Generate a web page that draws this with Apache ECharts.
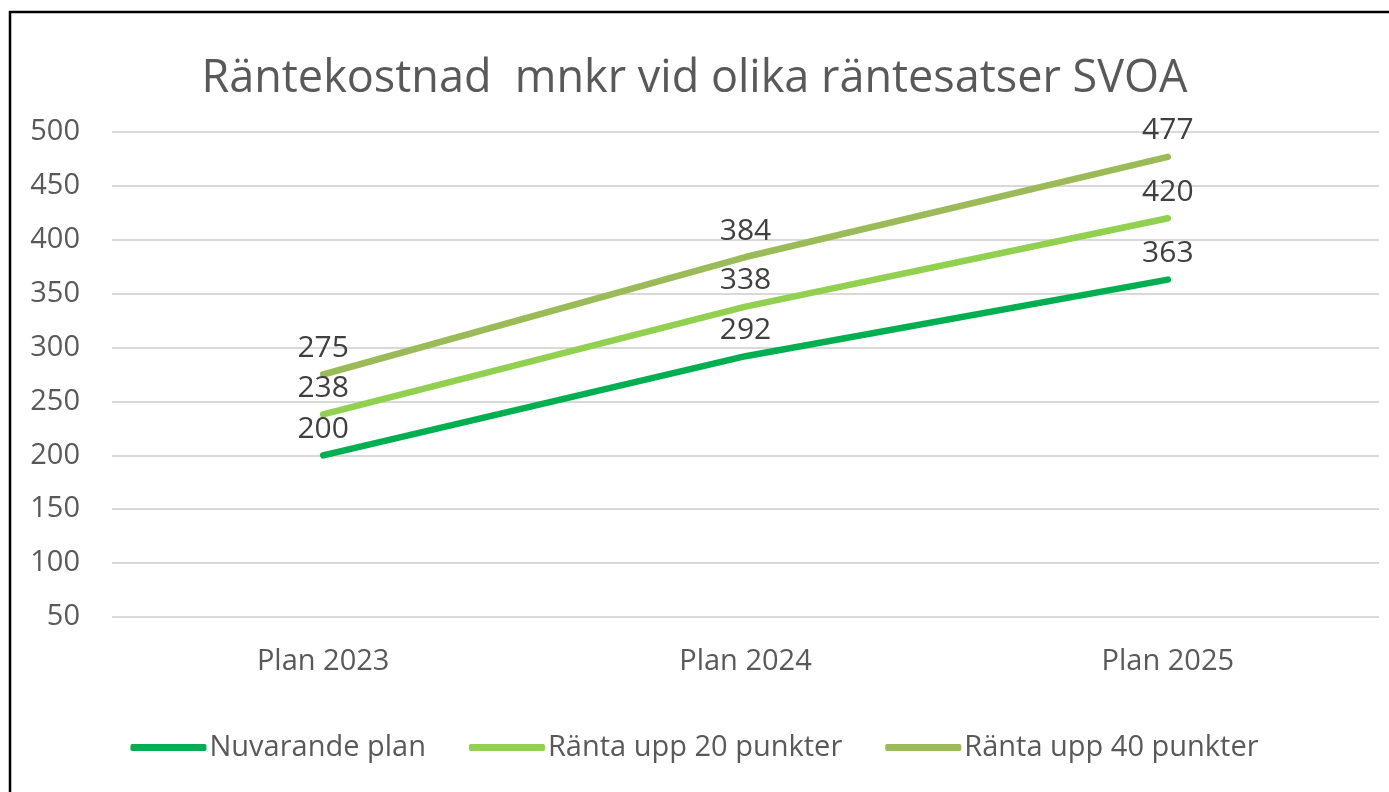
<!DOCTYPE html>
<html>
<head>
<meta charset="utf-8">
<script src="https://cdn.jsdelivr.net/npm/echarts@6/dist/echarts.min.js"></script>
<style>
  html, body { margin: 0; padding: 0; background: #fff; }
  #main { width: 1389px; height: 792px; }
</style>
</head>
<body>
<div id="main"></div>
<script>
const categories = ['Plan 2023', 'Plan 2024', 'Plan 2025'];
const nuvarande = [200, 292, 363];
const upp20 = [238, 338, 420];
const upp40 = [275, 384, 477];
const seriesNames = ['Nuvarande plan', 'Ränta upp 20 punkter', 'Ränta upp 40 punkter'];
const colors = ['#00B050', '#92D050', '#9BBB59'];

const chart = echarts.init(document.getElementById('main'));
const font = '"Open Sans", sans-serif';

const makeLine = (name, data, color) => ({
  name: name,
  type: 'line',
  data: data,
  symbol: 'circle',
  symbolSize: 0,
  lineStyle: { color: color, width: 6.5, cap: 'round' },
  itemStyle: { color: color },
  label: {
    show: true,
    position: 'top',
    distance: 11,
    color: '#404040',
    fontSize: 30,
    fontFamily: font
  }
});

const option = {
  backgroundColor: '#fff',
  animation: false,
  title: {
    text: 'Räntekostnad  mnkr vid olika räntesatser SVOA',
    left: 'center',
    top: 52,
    textStyle: { color: '#595959', fontSize: 45, fontWeight: 'normal', fontFamily: font }
  },
  legend: {
    bottom: 25,
    left: 'center',
    itemWidth: 76,
    itemHeight: 7,
    itemGap: 43,
    icon: 'roundRect',
    textStyle: { color: '#595959', fontSize: 29, fontFamily: font, padding: [0, 0, 0, -2] },
    data: seriesNames
  },
  grid: { left: 112, right: 10, top: 132, height: 485 },
  xAxis: {
    type: 'category',
    data: categories,
    boundaryGap: true,
    axisLine: { show: false },
    axisTick: { show: false },
    axisLabel: { color: '#595959', fontSize: 29, fontFamily: font, margin: 30 }
  },
  yAxis: {
    type: 'value',
    min: 50,
    max: 500,
    interval: 50,
    axisLine: { show: false },
    axisTick: { show: false },
    splitLine: { lineStyle: { color: '#d9d9d9', width: 2 } },
    axisLabel: { color: '#595959', fontSize: 29, fontFamily: font, margin: 32 }
  },
  graphic: [{
    type: 'rect',
    shape: { x: 10, y: 12, width: 1400, height: 800 },
    style: { fill: 'none', stroke: '#000', lineWidth: 2.5 },
    silent: true
  }],
  series: [
    makeLine(seriesNames[0], nuvarande, colors[0]),
    makeLine(seriesNames[1], upp20, colors[1]),
    makeLine(seriesNames[2], upp40, colors[2])
  ]
};

chart.setOption(option);
</script>
</body>
</html>
